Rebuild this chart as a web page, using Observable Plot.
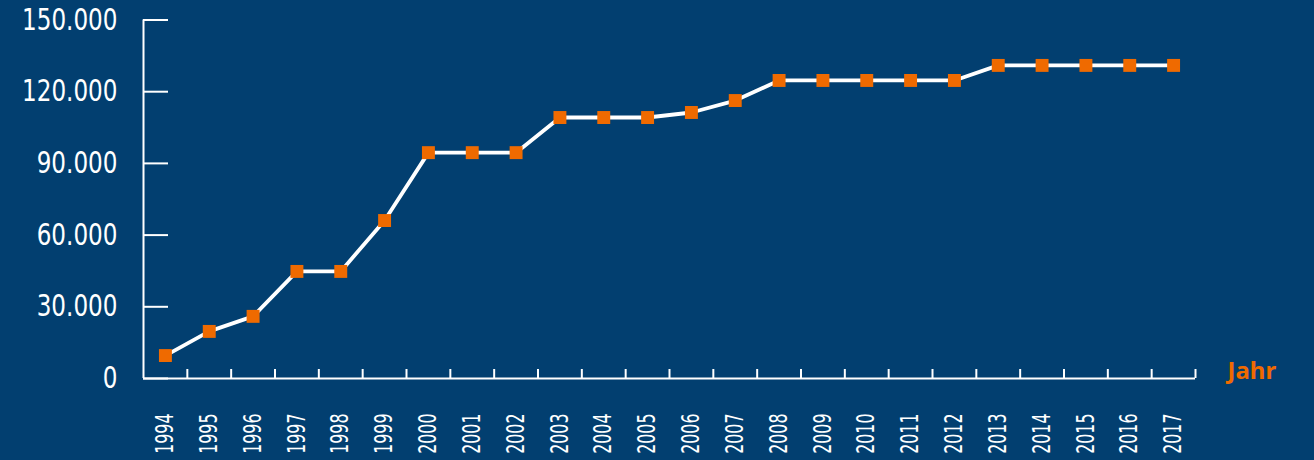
<!DOCTYPE html>
<html>
<head>
<meta charset="utf-8">
<script src="https://cdn.jsdelivr.net/npm/d3@7"></script>
<script src="https://cdn.jsdelivr.net/npm/@observablehq/plot@0.6"></script>
<style>
  html, body { margin: 0; padding: 0; background: #023f70; }
  #chart svg { display: block; }
</style>
</head>
<body>
<div id="chart"></div>
<script>
const years = [1994,1995,1996,1997,1998,1999,2000,2001,2002,2003,2004,2005,2006,2007,2008,2009,2010,2011,2012,2013,2014,2015,2016,2017];
const values = [9600,19700,26000,44800,44800,66100,94500,94500,94500,109200,109200,109200,111300,116300,124700,124700,124700,124700,124700,131000,131000,131000,131000,131000];
const yTicks = [0,30000,60000,90000,120000,150000];
const xAxisLabel = "Jahr";

const data = years.map((y, i) => ({year: y, value: values[i]}));
const xDomain = [years[0] - 0.5, years[years.length - 1] + 0.5];
const boundaries = years.map(y => y + 0.5);
const de = d3.formatLocale({decimal: ",", thousands: ".", grouping: [3], currency: ["", "€"]});
const fmt = de.format(",d");

const W = 1314, H = 460;
const mL = 143, mR = 119, mT = 19.5, mB = 82;
const plotW = W - mL - mR, plotH = H - mT - mB;

const white = "#ffffff";
const orange = "#ef6a00";
const font = "'DejaVu Sans', sans-serif";

const chart = Plot.plot({
  width: W,
  height: H,
  marginLeft: mL,
  marginRight: mR,
  marginTop: mT,
  marginBottom: mB,
  style: {background: "#023f70", color: white, fontFamily: font, overflow: "visible"},
  x: {type: "linear", domain: xDomain},
  y: {domain: [0, 150000]},
  marks: [
    Plot.axisY(yTicks, {tickSize: 0, tickPadding: 26, tickFormat: fmt, fontSize: 30, label: null, fill: white}),
    Plot.axisX(years, {tickSize: 0, tickPadding: 35, tickRotate: -90, tickFormat: d => String(d), fontSize: 24, label: null, fill: white}),
    Plot.tickY(yTicks, {y: d => d, stroke: white, strokeWidth: 2, insetRight: plotW - 25}),
    Plot.tickX(boundaries, {x: d => d, stroke: white, strokeWidth: 2, insetTop: plotH - 9}),
    Plot.ruleX([xDomain[0]], {stroke: white, strokeWidth: 2}),
    Plot.ruleY([0], {stroke: white, strokeWidth: 2}),
    Plot.line(data, {x: "year", y: "value", stroke: white, strokeWidth: 3.8}),
    Plot.dot(data, {x: "year", y: "value", symbol: "square", r: 7.3, fill: orange, stroke: null}),
    Plot.text([xAxisLabel], {x: xDomain[1], y: 0, dx: 32, dy: -7, text: d => d, textAnchor: "start", fill: orange, fontWeight: "bold", fontSize: 24, fontFamily: "'Noto Sans', 'DejaVu Sans', sans-serif"})
  ]
});
document.getElementById("chart").appendChild(chart);

// condensed look: squeeze glyphs horizontally (no condensed font installed)
function squeeze(selector, factor) {
  chart.querySelectorAll(selector).forEach(t => {
    const len = t.getComputedTextLength();
    t.setAttribute("textLength", (len * factor).toFixed(2));
    t.setAttribute("lengthAdjust", "spacingAndGlyphs");
  });
}
squeeze('g[aria-label="y-axis tick label"] text', 0.77);
squeeze('g[aria-label="x-axis tick label"] text', 0.66);
</script>
</body>
</html>
